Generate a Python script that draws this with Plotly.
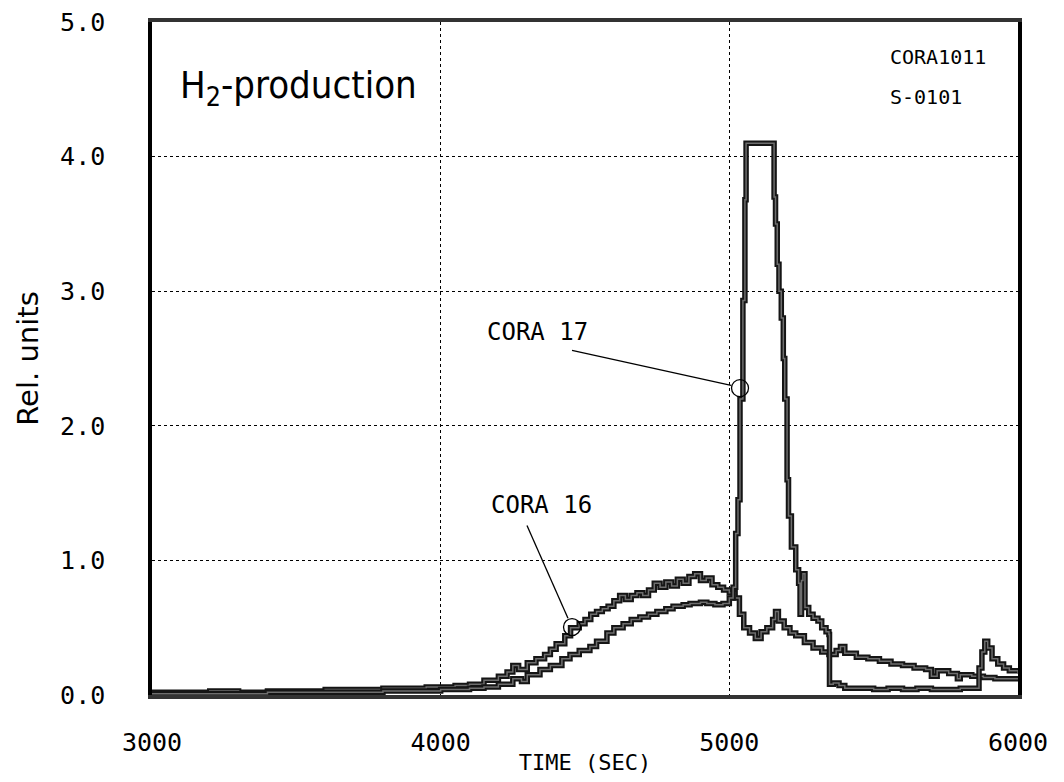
import plotly.graph_objects as go

# ---- data ----
cora16_t = [3000, 3100, 3200, 3300, 3400, 3500, 3600, 3700, 3800, 3900, 3950, 4000, 4050, 4100,
            4150, 4200, 4230, 4250, 4270, 4300, 4330, 4360, 4380, 4400, 4430, 4450, 4480, 4500,
            4520, 4540, 4560, 4580, 4600, 4620, 4640, 4660, 4680, 4700, 4720, 4740, 4760, 4780,
            4800, 4820, 4840, 4860, 4880, 4900, 4920, 4940, 4960, 4980, 5000, 5020, 5035, 5050,
            5070, 5090, 5110, 5130, 5150, 5160, 5170, 5190, 5210, 5230, 5260, 5290, 5320, 5345,
            5370, 5385, 5400, 5440, 5480, 5520, 5560, 5600, 5640, 5680, 5700, 5720, 5760, 5790,
            5800, 5840, 5880, 5920, 5960, 6000]
cora16_v = [0.02, 0.02, 0.03, 0.02, 0.03, 0.03, 0.04, 0.04, 0.05, 0.05, 0.06, 0.06, 0.07, 0.08,
            0.11, 0.14, 0.17, 0.22, 0.19, 0.24, 0.27, 0.30, 0.34, 0.38, 0.44, 0.50, 0.53, 0.56,
            0.60, 0.62, 0.64, 0.66, 0.70, 0.74, 0.71, 0.74, 0.76, 0.74, 0.78, 0.83, 0.80, 0.84,
            0.81, 0.86, 0.83, 0.88, 0.90, 0.85, 0.87, 0.82, 0.80, 0.78, 0.76, 0.72, 0.60, 0.50,
            0.46, 0.42, 0.47, 0.50, 0.56, 0.62, 0.55, 0.50, 0.46, 0.44, 0.39, 0.35, 0.32, 0.30,
            0.33, 0.36, 0.31, 0.28, 0.27, 0.25, 0.23, 0.22, 0.20, 0.19, 0.14, 0.18, 0.16, 0.12,
            0.15, 0.14, 0.13, 0.12, 0.12, 0.12]

cora17_t = [3000, 3200, 3400, 3600, 3800, 3900, 4000, 4100, 4150, 4200, 4250, 4280, 4300, 4344,
            4380, 4420, 4448, 4480, 4517, 4540, 4576, 4600, 4632, 4660, 4690, 4720, 4749, 4780,
            4805, 4840, 4864, 4900, 4922, 4950, 4978, 5000, 5013, 5022, 5030, 5037, 5047, 5054,
            5058, 5100, 5151, 5155, 5160, 5166, 5172, 5180, 5187, 5192, 5200, 5205, 5215, 5230,
            5240, 5245, 5250, 5255, 5262, 5275, 5290, 5307, 5320, 5335, 5345, 5347, 5360, 5380,
            5400, 5450, 5500, 5550, 5600, 5650, 5700, 5750, 5800, 5855, 5865, 5875, 5885, 5895,
            5910, 5930, 5950, 5970, 6000]
cora17_v = [0.01, 0.01, 0.02, 0.02, 0.03, 0.03, 0.04, 0.05, 0.06, 0.08, 0.12, 0.10, 0.15, 0.19,
            0.22, 0.27, 0.30, 0.33, 0.36, 0.40, 0.46, 0.50, 0.53, 0.56, 0.58, 0.60, 0.62, 0.64,
            0.66, 0.67, 0.68, 0.69, 0.68, 0.67, 0.68, 0.72, 0.80, 1.20, 1.45, 2.20, 2.93, 3.68,
            4.10, 4.10, 4.10, 3.70, 3.50, 3.20, 3.00, 2.80, 2.50, 2.20, 1.60, 1.33, 1.10, 0.93,
            0.83, 0.60, 0.85, 0.90, 0.65, 0.60, 0.57, 0.55, 0.50, 0.47, 0.45, 0.08, 0.09, 0.07,
            0.05, 0.05, 0.04, 0.05, 0.04, 0.05, 0.04, 0.04, 0.05, 0.05, 0.20, 0.32, 0.40, 0.35,
            0.27, 0.23, 0.20, 0.18, 0.16]

x_ticks = [3000, 4000, 5000, 6000]
x_tick_labels = ["3000", "4000", "5000", "6000"]
y_ticks = [0, 1, 2, 3, 4, 5]
y_tick_labels = ["0.0", "1.0", "2.0", "3.0", "4.0", "5.0"]

# label markers (circle on curve, leader line start, label text position)
label_names = ["CORA 17", "CORA 16"]
label_circle = [(5037, 2.28), (4455, 0.505)]
label_line_start = [(4455, 2.56), (4299, 1.26)]
label_line_end = [(5006, 2.30), (4441, 0.57)]
label_text_pos = [(4337, 2.70), (4350, 1.41)]

fig = go.Figure()

for t, v in [(cora16_t, cora16_v), (cora17_t, cora17_v)]:
    fig.add_trace(go.Scatter(x=t, y=v, mode="lines", line=dict(color="#151515", width=5.5, shape="hv"),
                             hoverinfo="skip", showlegend=False))
    fig.add_trace(go.Scatter(x=t, y=v, mode="lines", line=dict(color="#6e6e6e", width=1.5, shape="hv"),
                             hoverinfo="skip", showlegend=False))

fig.add_trace(go.Scatter(x=[c[0] for c in label_circle], y=[c[1] for c in label_circle],
                         mode="markers",
                         marker=dict(symbol="circle-open", size=17, color="black", line=dict(width=1.3)),
                         hoverinfo="skip", showlegend=False))

for (x0, y0), (x1, y1) in zip(label_line_start, label_line_end):
    fig.add_shape(type="line", x0=x0, y0=y0, x1=x1, y1=y1, xref="x", yref="y",
                  line=dict(color="black", width=1.3))

for name, (tx, ty) in zip(label_names, label_text_pos):
    fig.add_annotation(x=tx, y=ty, text=name, showarrow=False, xref="x", yref="y",
                       font=dict(family="DejaVu Sans Mono", size=24, color="black"))

fig.add_annotation(x=0.03, y=0.902, xref="paper", yref="paper", xanchor="left", yanchor="middle",
                   text="H<sub>2</sub>-production", showarrow=False,
                   font=dict(family="DejaVu Sans Condensed", size=38, color="black"))
fig.add_annotation(x=0.85, y=0.948, xref="paper", yref="paper", xanchor="left", yanchor="middle",
                   text="CORA1011", showarrow=False,
                   font=dict(family="DejaVu Sans Mono", size=20, color="black"))
fig.add_annotation(x=0.85, y=0.889, xref="paper", yref="paper", xanchor="left", yanchor="middle",
                   text="S-0101", showarrow=False,
                   font=dict(family="DejaVu Sans Mono", size=20, color="black"))

tick_font = dict(family="DejaVu Sans Mono", size=25, color="black")
fig.update_layout(
    width=1064, height=782,
    margin=dict(l=152, r=46, t=22, b=87),
    paper_bgcolor="white", plot_bgcolor="white",
    xaxis=dict(range=[3000, 6000], tickvals=x_ticks, ticktext=x_tick_labels, automargin=False,
               showgrid=True, gridcolor="black", griddash="dot", gridwidth=1.2,
               showline=True, mirror=True, linecolor="#333333", linewidth=4,
               ticks="", tickfont=tick_font, ticklabelstandoff=22, zeroline=False,
               title=dict(text="TIME (SEC)", font=dict(family="DejaVu Sans Mono", size=22, color="black"),
                          standoff=0)),
    yaxis=dict(range=[0, 5], tickvals=y_ticks, ticktext=y_tick_labels, automargin=False,
               showgrid=True, gridcolor="black", griddash="dot", gridwidth=1.2,
               showline=True, mirror=True, linecolor="black", linewidth=3.5,
               ticks="", tickfont=tick_font, ticklabelstandoff=38, zeroline=False,
               title=dict(text="Rel. units", font=dict(family="DejaVu Sans", size=29, color="black"),
                          standoff=14)),
)

fig.write_html("out.html")
